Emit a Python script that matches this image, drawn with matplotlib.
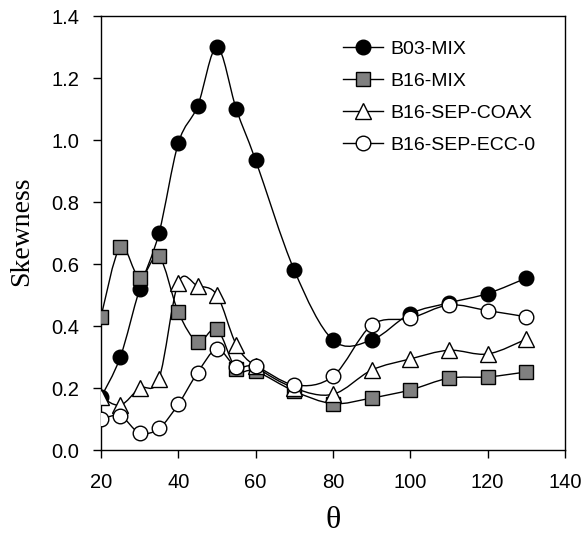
import numpy as np
import matplotlib
matplotlib.use("Agg")
import matplotlib.pyplot as plt
from matplotlib.path import Path
from matplotlib.patches import PathPatch
from matplotlib.lines import Line2D

theta = [20, 25, 30, 35, 40, 45, 50, 55, 60, 70, 80, 90, 100, 110, 120, 130]

b03_mix = [0.17, 0.30, 0.52, 0.70, 0.99, 1.11, 1.30, 1.10, 0.935, 0.58, 0.355, 0.355, 0.44, 0.475, 0.505, 0.555]
b16_mix = [0.43, 0.655, 0.555, 0.625, 0.445, 0.35, 0.39, 0.26, 0.255, 0.19, 0.15, 0.168, 0.194, 0.232, 0.236, 0.252]
b16_sep_coax = [0.17, 0.145, 0.20, 0.23, 0.54, 0.53, 0.50, 0.34, 0.27, 0.20, 0.18, 0.258, 0.294, 0.322, 0.31, 0.358]
b16_sep_ecc0 = [0.10, 0.11, 0.055, 0.07, 0.148, 0.25, 0.325, 0.268, 0.27, 0.21, 0.238, 0.403, 0.425, 0.468, 0.45, 0.43]

labels = ["B03-MIX", "B16-MIX", "B16-SEP-COAX", "B16-SEP-ECC-0"]


def smooth_path(x, y):
    # Excel-style smoothed line: Catmull-Rom segments as cubic Beziers
    pts = np.column_stack([x, y]).astype(float)
    verts = [pts[0]]
    codes = [Path.MOVETO]
    n = len(pts)
    for i in range(n - 1):
        p0 = pts[max(i - 1, 0)]
        p1 = pts[i]
        p2 = pts[i + 1]
        p3 = pts[min(i + 2, n - 1)]
        c1 = p1 + (p2 - p0) / 6.0
        c2 = p2 - (p3 - p1) / 6.0
        verts += [c1, c2, p2]
        codes += [Path.CURVE4] * 3
    return Path(verts, codes)


fig = plt.figure(figsize=(5.87, 5.39), dpi=100)
ax = fig.add_axes([0.172, 0.165, 0.7905, 0.805])

series = [
    (b03_mix, dict(marker="o", markersize=10.5, markerfacecolor="black", markeredgecolor="black")),
    (b16_mix, dict(marker="s", markersize=10, markerfacecolor="#808080", markeredgecolor="black")),
    (b16_sep_coax, dict(marker="^", markersize=11, markerfacecolor="white", markeredgecolor="black")),
    (b16_sep_ecc0, dict(marker="o", markersize=10.5, markerfacecolor="white", markeredgecolor="black")),
]

handles = []
for (vals, style), lab in zip(series, labels):
    ax.add_patch(PathPatch(smooth_path(theta, vals), facecolor="none", edgecolor="black", lw=1.0, zorder=2))
    ax.plot(theta, vals, linestyle="none", markeredgewidth=1.0, zorder=3, **style)
    handles.append(Line2D([], [], color="black", lw=1.0, markeredgewidth=1.0, label=lab, **style))

ax.set_xlim(20, 140)
ax.set_ylim(0, 1.4)
ax.set_xticks(range(20, 141, 20))
ax.set_yticks(np.arange(0, 1.41, 0.2))
ax.set_yticklabels([f"{v:.1f}" for v in np.arange(0, 1.41, 0.2)])
ax.tick_params(direction="out", length=6, width=1, labelsize=14.5)
ax.tick_params(axis="y", pad=9.4)
ax.tick_params(axis="x", pad=10.8)
for lab in ax.get_xticklabels() + ax.get_yticklabels():
    lab.set_family("Liberation Sans")
for sp in ax.spines.values():
    sp.set_linewidth(1.0)

ax.set_ylabel("Skewness", family="Liberation Serif", fontsize=20)
ax.yaxis.set_label_coords(-0.170, 0.505)
ax.yaxis.label.set_verticalalignment("center")
ax.set_xlabel("θ", family="Liberation Serif", fontsize=23)
ax.xaxis.set_label_coords(0.5, -0.128)

leg = ax.legend(handles=handles, loc="upper left", bbox_to_anchor=(0.5216, 0.945), frameon=False,
                prop={"family": "Liberation Sans", "size": 14}, handlelength=2.06,
                handletextpad=0.36, labelspacing=0.75, borderpad=0, borderaxespad=0)

fig.savefig("out.png", dpi=100)
